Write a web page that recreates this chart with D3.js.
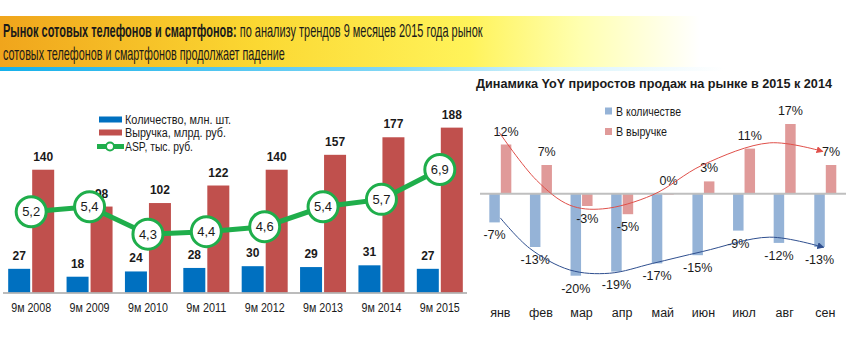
<!DOCTYPE html>
<html><head><meta charset="utf-8">
<script src="https://cdn.jsdelivr.net/npm/d3@7/dist/d3.min.js"></script>
<style>
body{margin:0;background:#fff;}
svg text{font-family:"Liberation Sans Narrow","Arial Narrow","Liberation Sans",sans-serif;fill:#1a1a1a;}
</style></head>
<body><svg id="c" width="853" height="341"></svg>
<script>
// ---- data ----
const years = ["9м 2008","9м 2009","9м 2010","9м 2011","9м 2012","9м 2013","9м 2014","9м 2015"];
const quantity = [27,18,24,28,30,29,31,27];          // млн. шт.
const revenue  = [140,98,102,122,140,157,177,188];   // млрд. руб.
const asp      = [5.2,5.4,4.3,4.4,4.6,5.4,5.7,6.9];  // тыс. руб.
const aspLabels = ["5,2","5,4","4,3","4,4","4,6","5,4","5,7","6,9"];

const months = ["янв","фев","мар","апр","май","июн","июл","авг","сен"];
const yoyQty = [-7,-13,-20,-19,-17,-15,-9,-12,-13];
const yoyRev = [12,7,-3,-5,0,3,11,17,7];
// trend annotation paths in data space (month index, %)
const trendRev = [[-0.03,15],[0.89,3.3],[1.71,-2.8],[2.52,-3.7],[3.75,-0.3],[4.98,7.0],[6.63,12.4],[7.94,10.3]];
const trendQty = [[0,-5.9],[0.72,-13.3],[1.71,-18.6],[2.69,-19.4],[3.75,-17],[4.98,-14.1],[6.63,-10.6],[7.96,-13.1]];

const titleBold = "Рынок сотовых телефонов и смартфонов:";
const titleRest1 = " по анализу трендов 9 месяцев 2015 года рынок";
const titleLine2 = "сотовых телефонов и смартфонов продолжает падение";
const rightTitle = "Динамика YoY приростов продаж на рынке в 2015 к 2014";
const legendLeft = ["Количество, млн. шт.","Выручка, млрд. руб.","ASP, тыс. руб."];
const legendRight = ["В количестве","В выручке"];

const svg = d3.select("#c");
const defs = svg.append("defs");
const fit = (sel,len)=>sel.attr("textLength",len).attr("lengthAdjust","spacingAndGlyphs");

// ---- title band ----
const g1 = defs.append("linearGradient").attr("id","tg").attr("x1","0").attr("x2","1");
g1.append("stop").attr("offset","0").attr("stop-color","#f0a51c");
g1.append("stop").attr("offset","0.3").attr("stop-color","#fbd832");
g1.append("stop").attr("offset","0.55").attr("stop-color","#fff35a");
g1.append("stop").attr("offset","0.68").attr("stop-color","#ffffb0");
g1.append("stop").attr("offset","0.82").attr("stop-color","#ffffff");
const g2 = defs.append("linearGradient").attr("id","cg").attr("x1","0").attr("x2","1");
g2.append("stop").attr("offset","0").attr("stop-color","#15b0ea");
g2.append("stop").attr("offset","0.45").attr("stop-color","#7fd6f5");
g2.append("stop").attr("offset","0.65").attr("stop-color","#d8f4fc");
g2.append("stop").attr("offset","0.85").attr("stop-color","#ffffff");
svg.append("rect").attr("x",0).attr("y",16).attr("width",853).attr("height",51).attr("fill","url(#tg)");
svg.append("rect").attr("x",0).attr("y",67).attr("width",853).attr("height",4).attr("fill","url(#cg)");

// title: horizontally condensed via group scale (narrow Calibri-like look)
function condensed(x,y,width,build){
  const g = svg.append("g");
  const t = g.append("text").attr("x",0).attr("y",0).style("font-size","17.5px");
  build(t);
  const w = t.node().getComputedTextLength();
  g.attr("transform",`translate(${x},${y}) scale(${width/w},1)`);
}
condensed(3,37,480,t=>{
  t.append("tspan").attr("font-weight","bold").text(titleBold);
  t.append("tspan").text(titleRest1);
});
condensed(3,60,282,t=>t.text(titleLine2));

// ---- left chart ----
const xL = d3.scaleBand().domain(years).range([2,469]);
const base = 292.5;
const yL = d3.scaleLinear().domain([0,200]).range([base, base-175.4]);
const yA = d3.scaleLinear().domain([0,8]).range([341, 341-198.8]);
const cx = d => xL(d)+xL.bandwidth()/2;
const bw = 22;

const left = svg.append("g");
left.selectAll(".bq").data(years).join("rect")
  .attr("x",d=>cx(d)-bw-1).attr("width",bw)
  .attr("y",(d,i)=>yL(quantity[i])).attr("height",(d,i)=>base-yL(quantity[i]))
  .attr("fill","#0070c0");
left.selectAll(".br").data(years).join("rect")
  .attr("x",d=>cx(d)+1).attr("width",bw)
  .attr("y",(d,i)=>yL(revenue[i])).attr("height",(d,i)=>base-yL(revenue[i]))
  .attr("fill","#c0504d");
left.append("line").attr("x1",3).attr("x2",467).attr("y1",base+0.5).attr("y2",base+0.5)
  .attr("stroke","#a6a6a6").attr("stroke-width",1.5);
left.selectAll(".lq").data(years).join("text")
  .attr("x",d=>cx(d)-bw/2-1).attr("y",(d,i)=>yL(quantity[i])-9)
  .attr("text-anchor","middle").attr("font-weight","bold").style("font-size","12px")
  .text((d,i)=>quantity[i]);
left.selectAll(".lr").data(years).join("text")
  .attr("x",d=>cx(d)+bw/2+1).attr("y",(d,i)=>yL(revenue[i])-9)
  .attr("text-anchor","middle").attr("font-weight","bold").style("font-size","12px")
  .text((d,i)=>revenue[i]);
// x axis labels
fit(left.selectAll(".xl").data(years).join("text")
  .attr("x",d=>cx(d)-20).attr("y",312).style("font-size","12px")
  .attr("fill","#262626").text(d=>d),40);
// ASP line
const line = d3.line().x((d,i)=>cx(years[i])).y(d=>yA(d));
left.append("path").attr("d",line(asp)).attr("fill","none").attr("stroke","#1fae4b").attr("stroke-width",5);
left.selectAll(".ac").data(asp).join("circle")
  .attr("cx",(d,i)=>cx(years[i])).attr("cy",d=>yA(d)).attr("r",15)
  .attr("fill","#fff").attr("stroke","#1fae4b").attr("stroke-width",3);
left.selectAll(".at").data(asp).join("text")
  .attr("x",(d,i)=>cx(years[i])).attr("y",d=>yA(d)+4.5).attr("text-anchor","middle")
  .style("font-size","13px").text((d,i)=>aspLabels[i]);
// legend
const lg = left.append("g");
lg.append("rect").attr("x",99).attr("y",116.5).attr("width",23).attr("height",6).attr("fill","#0070c0");
lg.append("rect").attr("x",99).attr("y",129.5).attr("width",23).attr("height",6).attr("fill","#c0504d");
lg.append("line").attr("x1",97).attr("x2",124).attr("y1",146.5).attr("y2",146.5).attr("stroke","#1fae4b").attr("stroke-width",5);
lg.append("circle").attr("cx",110).attr("cy",146.5).attr("r",4).attr("fill","#fff").attr("stroke","#1fae4b").attr("stroke-width",2);
const legLens = [106,101,68];
legendLeft.forEach((t,i)=>{
  fit(lg.append("text").attr("x",125).attr("y",123.5+i*13.7).style("font-size","12px").attr("fill","#262626").text(t),legLens[i]);
});

// ---- right chart ----
fit(svg.append("text").attr("x",476).attr("y",88).attr("font-weight","bold").style("font-size","12.5px").text(rightTitle),356);
const xR = d3.scaleBand().domain(months).range([480,845.6]);
const yR = d3.scaleLinear().domain([-25,20]).range([193.7+102.5, 193.7-82]);
const mc = m => xR(m)+xR.bandwidth()/2;
const bw2 = 10.5;
const right = svg.append("g");
right.selectAll(".rq").data(months).join("rect")
  .attr("x",d=>mc(d)-bw2-0.5).attr("width",bw2)
  .attr("y",(d,i)=>Math.min(yR(0),yR(yoyQty[i]))).attr("height",(d,i)=>Math.abs(yR(yoyQty[i])-yR(0)))
  .attr("fill","#95b3d7");
right.selectAll(".rr").data(months).join("rect")
  .attr("x",d=>mc(d)+0.5).attr("width",bw2)
  .attr("y",(d,i)=>Math.min(yR(0),yR(yoyRev[i]))).attr("height",(d,i)=>Math.max(1,Math.abs(yR(yoyRev[i])-yR(0))))
  .attr("fill","#e09a99");
right.append("line").attr("x1",480).attr("x2",846).attr("y1",yR(0)).attr("y2",yR(0))
  .attr("stroke","#bfbfbf").attr("stroke-width",2);
const lblY = v => v>=0 ? yR(v)-9 : yR(v)+17;
right.selectAll(".tq").data(months).join("text")
  .attr("x",d=>mc(d)-bw2/2-0.5).attr("y",(d,i)=>lblY(yoyQty[i])).attr("text-anchor","middle")
  .style("font-size","12.5px").text((d,i)=>yoyQty[i]+"%");
right.selectAll(".tr").data(months).join("text")
  .attr("x",d=>mc(d)+bw2/2+0.5).attr("y",(d,i)=>lblY(yoyRev[i])).attr("text-anchor","middle")
  .style("font-size","12.5px").text((d,i)=>yoyRev[i]+"%");
right.selectAll(".xm").data(months).join("text")
  .attr("x",d=>mc(d)).attr("y",317).attr("text-anchor","middle").style("font-size","12.5px")
  .attr("fill","#262626").text(d=>d);
// trend arrows
const mk = (id,col)=>{
  defs.append("marker").attr("id",id).attr("viewBox","0 0 10 10").attr("refX",9).attr("refY",5)
    .attr("markerWidth",7).attr("markerHeight",7).attr("orient","auto-start-reverse")
    .append("path").attr("d","M0,0L10,5L0,10z").attr("fill",col);
};
mk("ar","#e0504a"); mk("ab","#2f4f8f");
const tx = v => xR(months[0])+xR.bandwidth()/2 + v*xR.step();
const tline = d3.line().x(d=>tx(d[0])).y(d=>yR(d[1])).curve(d3.curveCatmullRom.alpha(0.5));
right.append("path").attr("d",tline(trendRev)).attr("fill","none").attr("stroke","#e0504a").attr("stroke-width",1).attr("marker-end","url(#ar)");
right.append("path").attr("d",tline(trendQty)).attr("fill","none").attr("stroke","#2f4f8f").attr("stroke-width",1).attr("marker-end","url(#ab)");
// legend
right.append("rect").attr("x",605).attr("y",107.5).attr("width",7).attr("height",7).attr("fill","#95b3d7");
right.append("rect").attr("x",605).attr("y",128).attr("width",7).attr("height",7).attr("fill","#e09a99");
const legRLens = [65,51];
legendRight.forEach((t,i)=>{
  fit(right.append("text").attr("x",616).attr("y",115.5+i*20.5).style("font-size","12px").attr("fill","#262626").text(t),legRLens[i]);
});
</script></body></html>
